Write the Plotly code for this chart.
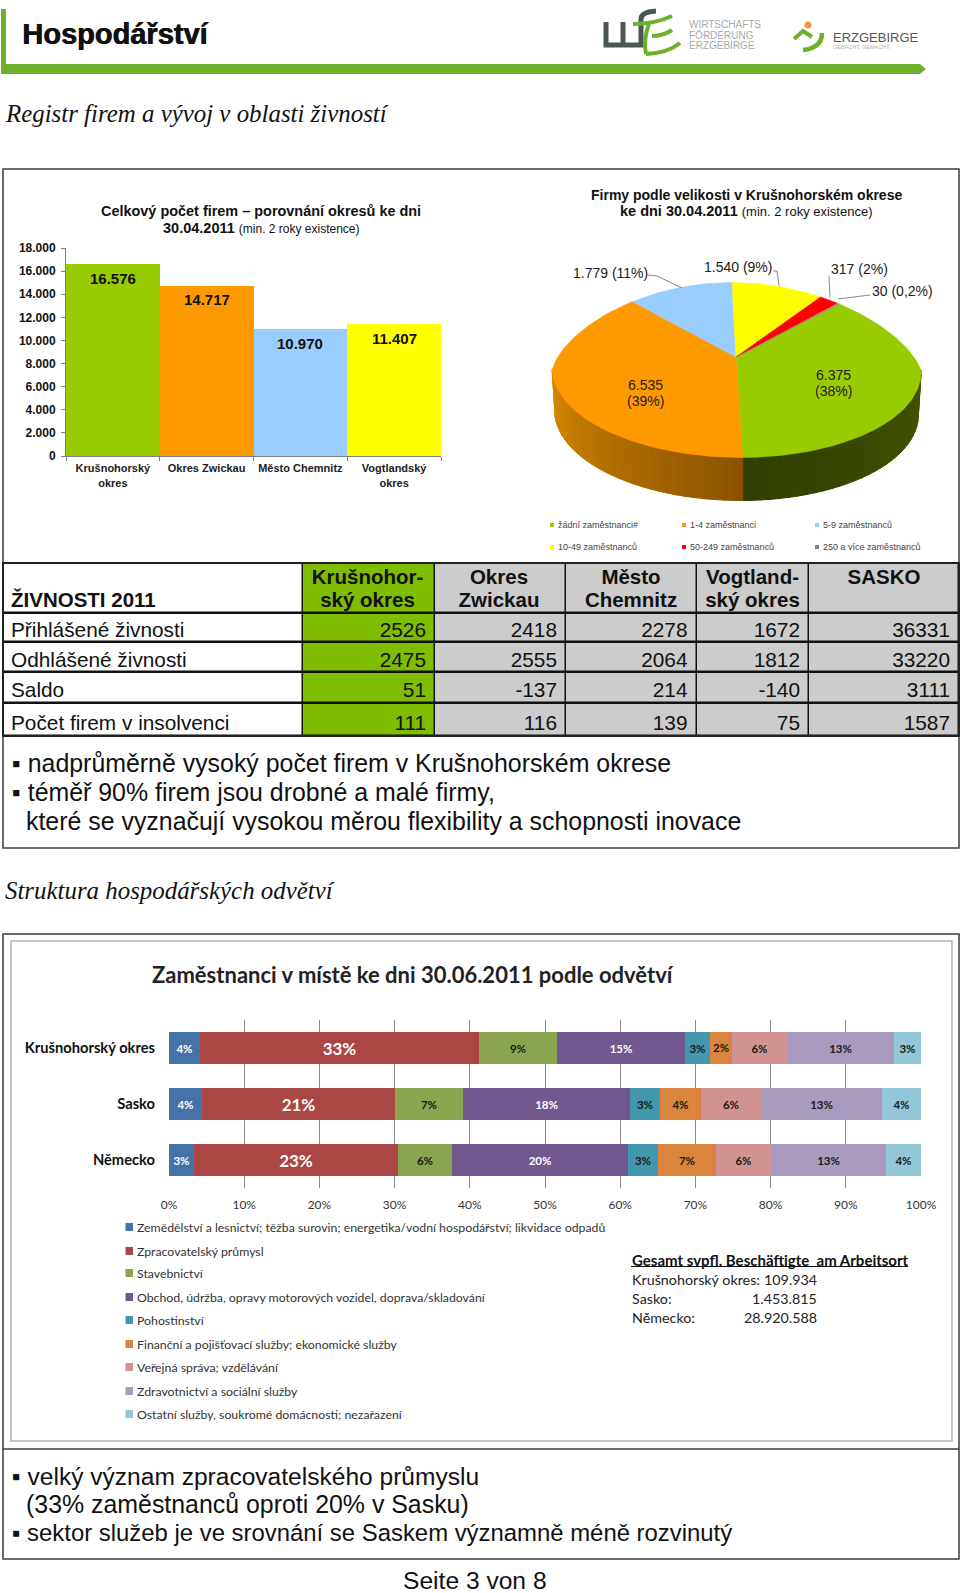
import plotly.graph_objects as go
import math

W, H = 960, 1593
SANS = "Liberation Sans"
SERIF = "Liberation Serif"
LATO = "Lato"

# ---------- data ----------
bar_categories = ["Krušnohorský<br>okres", "Okres Zwickau", "Město Chemnitz", "Vogtlandský<br>okres"]
bar_values = [16576, 14717, 10970, 11407]
bar_colors = ["#99CC00", "#FF9900", "#99CCFF", "#FFFF00"]
bar_ticks = [0, 2000, 4000, 6000, 8000, 10000, 12000, 14000, 16000, 18000]

pie_names = ["žádní zaměstnanci#", "1-4 zaměstnanci", "5-9 zaměstnanců",
             "10-49 zaměstnanců", "50-249 zaměstnanců", "250 a více zaměstnanců"]
pie_values = [6375, 6535, 1779, 1540, 317, 30]
pie_colors = ["#99CC00", "#FF9900", "#99CCFF", "#FFFF00", "#FF0000", "#808080"]

table_corner = "ŽIVNOSTI 2011"
table_head_1 = ["Krušnohor-", "Okres", "Město", "Vogtland-", "SASKO"]
table_head_2 = ["ský okres", "Zwickau", "Chemnitz", "ský okres", ""]
table_rows = ["Přihlášené živnosti", "Odhlášené živnosti", "Saldo", "Počet firem v insolvenci"]
col_krusne = [2526, 2475, 51, 111]
col_zwickau = [2418, 2555, -137, 116]
col_chemnitz = [2278, 2064, 214, 139]
col_vogtland = [1672, 1812, -140, 75]
col_sasko = [36331, 33220, 3111, 1587]

hbar_regions = ["Krušnohorský okres", "Sasko", "Německo"]
sector_names = [
    "Zemědělství a lesnictví; těžba surovin; energetika/vodní hospodářství; likvidace odpadů",
    "Zpracovatelský průmysl", "Stavebnictví",
    "Obchod, údržba, opravy motorových vozidel, doprava/skladování", "Pohostinství",
    "Finanční a pojišťovací služby; ekonomické služby", "Veřejná správa; vzdělávání",
    "Zdravotnictví a sociální služby", "Ostatní služby, soukromé domácnosti; nezařazení"]
sector_colors = ["#4572A7", "#AA4643", "#89A54E", "#71588F", "#4198AF",
                 "#DB843D", "#D19392", "#A99BBD", "#93C6D6"]
sector_text_colors = ["white", "white", "#1a1a1a", "white", "#1a1a1a",
                      "#1a1a1a", "#1a1a1a", "#1a1a1a", "#1a1a1a"]
sector_text_sizes = [11.5, 17, 11.5, 11.5, 11.5, 11.5, 11.5, 11.5, 11.5]
share_krusne = [4.1, 37.1, 10.4, 17.0, 3.4, 2.8, 7.4, 14.2, 3.6]
share_sasko = [4.4, 25.6, 9.1, 22.2, 4.0, 5.4, 8.0, 16.1, 5.2]
share_nemecko = [3.3, 27.2, 7.1, 23.5, 3.9, 7.8, 7.2, 15.3, 4.7]
label_krusne = ["4%", "33%", "9%", "15%", "3%", "2%", "6%", "13%", "3%"]
label_sasko = ["4%", "21%", "7%", "18%", "3%", "4%", "6%", "13%", "4%"]
label_nemecko = ["3%", "23%", "6%", "20%", "3%", "7%", "6%", "13%", "4%"]
pct_ticks = [0, 10, 20, 30, 40, 50, 60, 70, 80, 90, 100]
pct_tick_labels = ["0%", "10%", "20%", "30%", "40%", "50%", "60%", "70%", "80%", "90%", "100%"]

# ---------- helpers ----------
def px_x(x):
    return x / W

def px_y(y):
    return 1 - y / H

annotations = []
shapes = []

def txt(x, y, s, size, family=SANS, color="#111", anchor="left", shadow=None):
    font = dict(size=size, family=family, color=color)
    if shadow:
        font["shadow"] = shadow
    annotations.append(dict(x=px_x(x), y=px_y(y), xref="paper", yref="paper", text=s,
                            showarrow=False, xanchor=anchor, yanchor="middle", align=anchor,
                            font=font, borderpad=0))

def rect(x0, y0, x1, y1, fill=None, line=None, lw=1, layer="above"):
    shapes.append(dict(type="rect", xref="paper", yref="paper", x0=px_x(x0), x1=px_x(x1),
                       y0=px_y(y0), y1=px_y(y1), fillcolor=fill or "rgba(0,0,0,0)",
                       line=dict(color=line or "rgba(0,0,0,0)", width=lw if line else 0), layer=layer))

def hline(x0, x1, y, color, lw):
    shapes.append(dict(type="line", xref="paper", yref="paper", x0=px_x(x0), x1=px_x(x1),
                       y0=px_y(y), y1=px_y(y), line=dict(color=color, width=lw)))

def polyline(points, color, lw, fill=None):
    path = "M " + " L ".join(f"{px_x(a):.5f},{px_y(b):.5f}" for a, b in points)
    shapes.append(dict(type="path", xref="paper", yref="paper", path=path,
                       line=dict(color=color, width=lw), fillcolor=fill or "rgba(0,0,0,0)"))

def curve(d, color, lw):
    out = []
    for cmd, *pts in d:
        out.append(cmd + " " + " ".join(f"{px_x(a):.5f},{px_y(b):.5f}" for a, b in pts))
    shapes.append(dict(type="path", xref="paper", yref="paper", path=" ".join(out),
                       line=dict(color=color, width=lw), fillcolor="rgba(0,0,0,0)"))

fig = go.Figure()

# ---------- column chart ----------
fig.add_trace(go.Bar(x=bar_categories, y=bar_values, marker=dict(color=bar_colors, line=dict(width=0)),
                     xaxis="x", yaxis="y", hoverinfo="skip", showlegend=False))
for cat, val in zip(bar_categories, bar_values):
    annotations.append(dict(x=cat, y=val, xref="x", yref="y", yshift=-14, showarrow=False,
                            text=f"{val:,}".replace(",", "."), yanchor="middle",
                            font=dict(family=SANS, size=15, color="#111", weight="bold")))

# ---------- 3D-looking pie (drawn on its own pair of axes) ----------
A, B, DEPTH = 184.5, 87.5, 43
ROT = 41.0
APEX = (-0.5, 13)

def rim(theta):
    t = math.radians(theta)
    c = math.cos(t)
    f = 1 - 0.165 * max(c, 0)
    return A * math.sin(t) * f - 4.5 * c, B * c

def mix(c1, c2, k):
    a = [int(c1[i:i + 2], 16) for i in (1, 3, 5)]
    b = [int(c2[i:i + 2], 16) for i in (1, 3, 5)]
    return "#" + "".join(f"{round(p + (q - p) * k):02x}" for p, q in zip(a, b))

total = sum(pie_values)
edges = [ROT]
for v in pie_values:
    edges.append(edges[-1] + v / total * 360)

wall = [(90.0, edges[1], "#445400", "#2f3f00"), (edges[1], 270.0, "#8a5200", "#d98a00")]
for start, end, c_a, c_b in wall:
    n = 30
    for i in range(n):
        t0 = start + (end - start) * i / n
        t1 = start + (end - start) * (i + 1) / n + 0.3
        p0, p1 = rim(t0), rim(t1)
        xs = [p0[0], p1[0], p1[0] * 0.985, p0[0] * 0.985, p0[0]]
        ys = [p0[1], p1[1], p1[1] - DEPTH, p0[1] - DEPTH, p0[1]]
        col = mix(c_a, c_b, (i + 0.5) / n)
        fig.add_trace(go.Scatter(x=xs, y=ys, xaxis="x2", yaxis="y2", mode="lines", fill="toself",
                                 fillcolor=col, line=dict(color=col, width=1),
                                 hoverinfo="skip", showlegend=False))

for k, name in enumerate(pie_names):
    t0, t1 = edges[k], edges[k + 1]
    n = max(2, int((t1 - t0) / 1.5))
    arc = [rim(t0 + (t1 - t0) * i / n) for i in range(n + 1)]
    xs = [APEX[0]] + [p[0] for p in arc] + [APEX[0]]
    ys = [APEX[1]] + [p[1] for p in arc] + [APEX[1]]
    fig.add_trace(go.Scatter(x=xs, y=ys, xaxis="x2", yaxis="y2", mode="lines", fill="toself",
                             fillcolor=pie_colors[k], line=dict(color=pie_colors[k], width=0.5),
                             name=name, hoverinfo="skip", showlegend=False))

# ---------- table, as a heatmap with text ----------
col_edges = [3, 303, 435, 566, 696.5, 809, 959]
row_edges = [563, 613, 642, 672, 703, 736]
row_text_y = [632, 662, 692, 725]
head_y1, head_y2 = 579, 602
columns = [col_krusne, col_zwickau, col_chemnitz, col_vogtland, col_sasko]
n_rows = len(table_rows) + 1
z = [[0, 1, 2, 2, 2, 2] for _ in range(n_rows)]
fig.add_trace(go.Heatmap(x=col_edges, y=row_edges, z=z, xaxis="x4", yaxis="y4", zmin=0, zmax=2,
                         colorscale=[[0, "#FFFFFF"], [0.5, "#80BC00"], [1, "#CCCCCC"]],
                         showscale=False, xgap=1.5, ygap=2.5, hoverinfo="skip"))
tfont = dict(family=SANS, size=20.8, color="#111")
hfont = dict(family=SANS, size=20.5, color="#111", weight="bold")
head_centers = [367.5, 499, 631, 752.5, 884]
fig.add_trace(go.Scatter(x=head_centers, y=[head_y1] * 5, text=table_head_1, mode="text", xaxis="x4", yaxis="y4",
                         textposition="middle center", textfont=hfont, hoverinfo="skip", showlegend=False))
fig.add_trace(go.Scatter(x=head_centers, y=[head_y2] * 5, text=table_head_2, mode="text", xaxis="x4", yaxis="y4",
                         textposition="middle center", textfont=hfont, hoverinfo="skip", showlegend=False))
fig.add_trace(go.Scatter(x=[11], y=[head_y2], text=[table_corner], mode="text", xaxis="x4", yaxis="y4",
                         textposition="middle right", textfont=hfont, hoverinfo="skip", showlegend=False))
fig.add_trace(go.Scatter(x=[11] * 4, y=row_text_y, text=table_rows, mode="text", xaxis="x4", yaxis="y4",
                         textposition="middle right", textfont=tfont, hoverinfo="skip", showlegend=False))
for j, col in enumerate(columns):
    fig.add_trace(go.Scatter(x=[col_edges[j + 2] - 9] * 4, y=row_text_y, text=[str(v) for v in col], mode="text",
                             xaxis="x4", yaxis="y4", textposition="middle left", textfont=tfont,
                             hoverinfo="skip", showlegend=False))

# ---------- stacked bars ----------
for i, name in enumerate(sector_names):
    fig.add_trace(go.Bar(
        y=hbar_regions, x=[share_krusne[i], share_sasko[i], share_nemecko[i]],
        text=[label_krusne[i], label_sasko[i], label_nemecko[i]],
        orientation="h", name=name, xaxis="x3", yaxis="y3", width=0.56,
        marker=dict(color=sector_colors[i], line=dict(width=0)),
        textposition="inside", insidetextanchor="middle", textangle=0,
        insidetextfont=dict(family=LATO, size=sector_text_sizes[i], color=sector_text_colors[i], weight="bold"),
        hoverinfo="skip", showlegend=False))

# ---------- frames ----------
rect(3, 169, 959, 848, line="#3c3c3c", lw=1.5)
rect(3, 934, 959, 1559, line="#3c3c3c", lw=1.5)
rect(11, 941, 952, 1441, line="#b4b4b4", lw=1.5)
hline(3, 959, 1449, "#3c3c3c", 1.5)
rect(3, 563, 959, 736, fill="#111111", layer="below")
rect(3, 563, 959, 736, line="#222222", lw=2)

# ---------- page header ----------
GREEN = "#6DB02C"
polyline([(1, 64), (920, 64), (926, 69), (920, 74), (1, 74), (1, 64)], GREEN, 0, GREEN)
rect(1, 9, 6, 64, fill=GREEN)
txt(21, 34, "<b>Hospodářství</b>", 29, shadow="0.8px 0 0 #111")
txt(4, 114, "<i>Registr firem a vývoj v oblasti živností</i>", 24.9, SERIF)
txt(4, 891, "<i>Struktura hospodářských odvětví</i>", 24.9, SERIF)

# logos
DARK = "#4B5657"
curve([("M", (606, 22)), ("L", (606, 45)), ("L", (641, 45)), ("L", (641, 19)), ("Q", (641, 12), (656, 11))], DARK, 5)
curve([("M", (623, 22)), ("L", (623, 45))], DARK, 5)
curve([("M", (633, 24)), ("Q", (655, 24), (672, 16))], GREEN, 4)
curve([("M", (652, 36)), ("Q", (663, 36), (672, 30))], GREEN, 4)
curve([("M", (646, 54)), ("Q", (668, 53), (680, 43))], GREEN, 4)
curve([("M", (649, 24)), ("Q", (643, 40), (646, 54))], GREEN, 4)
txt(688, 24, "WIRTSCHAFTS", 10, color="#a8a8a8")
txt(688, 35, "FÖRDERUNG", 10, color="#a8a8a8")
txt(688, 46, "ERZGEBIRGE", 10, color="#a8a8a8")
shapes.append(dict(type="circle", xref="paper", yref="paper", x0=px_x(804.5), x1=px_x(811.5),
                   y0=px_y(21.5), y1=px_y(28.5), fillcolor="#EE9933", line=dict(width=0)))
curve([("M", (794, 39)), ("L", (803, 31)), ("L", (812, 37))], GREEN, 4)
curve([("M", (803, 50)), ("Q", (822, 48), (822, 33))], GREEN, 4.5)
txt(832, 37, "ERZGEBIRGE", 13, color="#555555")
txt(832, 47.5, "GEBACHT, GEMACHT.", 5.5, color="#b0b0b0")

# ---------- column chart texts ----------
txt(261, 211, "<b>Celkový počet firem – porovnání okresů ke dni</b>", 14.45, anchor="center")
txt(261, 228, '<b>30.04.2011</b> <span style="font-size:12px">(min. 2 roky existence)</span>', 14.5, anchor="center")

# ---------- pie texts ----------
txt(746, 195, "<b>Firmy podle velikosti v Krušnohorském okrese</b>", 14, anchor="center")
txt(746, 211, '<b>ke dni 30.04.2011</b> <span style="font-size:13px">(min. 2 roky existence)</span>', 14.5, anchor="center")
pie_text = [
    (833, 375, "6.375"), (833, 391, "(38%)"), (645, 385, "6.535"), (645, 401, "(39%)"),
    (610, 273, "1.779 (11%)"), (738, 267, "1.540 (9%)"), (859, 269, "317 (2%)"), (902, 291, "30 (0,2%)")]
for x, y, s in pie_text:
    txt(x, y, s, 14, anchor="center", color="#222")
for pts in ([(648, 275), (657, 276), (682, 288)], [(773, 271), (777, 271), (779, 286)],
            [(829, 276), (830, 297)], [(870, 295), (838, 299)]):
    polyline(pts, "#666666", 0.8)
leg_x = [552, 684, 817]
leg_y = [525, 547]
for k, name in enumerate(pie_names):
    lx, ly = leg_x[k % 3], leg_y[k // 3]
    rect(lx - 2, ly - 2, lx + 2, ly + 2, fill=pie_colors[k])
    txt(lx + 5, ly, name, 9, color="#444")

# ---------- body text ----------
txt(11, 763, "▪ nadprůměrně vysoký počet firem v Krušnohorském okrese", 24.9)
txt(11, 792, "▪ téměř 90% firem jsou drobné a malé firmy,", 24.9)
txt(25, 821, "které se vyznačují vysokou měrou flexibility a schopnosti inovace", 24.9)
txt(11, 1476, "▪ velký význam zpracovatelského průmyslu", 24.55)
txt(25, 1504, "(33% zaměstnanců oproti 20% v Sasku)", 24.9)
txt(11, 1532, "▪ sektor služeb je ve srovnání se Saskem významně méně rozvinutý", 23.9)
txt(475, 1580, "Seite 3 von 8", 24.6, anchor="center")

# ---------- stacked bar texts ----------
txt(151, 975, "<b>Zaměstnanci v místě ke dni 30.06.2011 podle odvětví</b>", 22, LATO, "#222")
sector_y = [1227, 1251, 1273, 1297, 1320, 1344, 1367, 1391, 1414]
for i, name in enumerate(sector_names):
    rect(125.5, sector_y[i] - 4, 133, sector_y[i] + 4, fill=sector_colors[i])
    txt(136, sector_y[i], name, 12.3, LATO, "#333")
txt(631, 1260, "<b>Gesamt svpfl. Beschäftigte  am Arbeitsort</b>", 15, LATO, "#111")
hline(631, 908, 1266.5, "#111", 1)
for y, a, b in ((1279, "Krušnohorský okres:", "109.934"), (1298, "Sasko:", "1.453.815"), (1317, "Německo:", "28.920.588")):
    txt(631, y, a, 14.3, LATO, "#222")
    txt(818, y, b, 14.3, LATO, "#222", anchor="right")

# ---------- layout ----------
def dom_x(a, b):
    return [px_x(a), px_x(b)]

def dom_y(top, bottom):
    return [px_y(bottom), px_y(top)]

hidden = dict(visible=False, showgrid=False, zeroline=False, fixedrange=True, automargin=False)
fig.update_layout(
    width=W, height=H, autosize=False, margin=dict(l=0, r=0, t=0, b=0, pad=0),
    paper_bgcolor="white", plot_bgcolor="rgba(0,0,0,0)", separators=",.",
    barmode="stack", bargap=0, showlegend=False,
    font=dict(family=SANS, color="#222"),
    annotations=annotations, shapes=shapes,
    xaxis=dict(domain=dom_x(66, 441), anchor="y", type="category", showgrid=False, zeroline=False, automargin=False,
               showline=True, linecolor="#808080", ticks="outside", ticklen=4, tickcolor="#808080",
               tickson="boundaries", tickfont=dict(family=SANS, size=11, color="#222", weight="bold"),
               tickangle=0, ticklabelstandoff=2),
    yaxis=dict(domain=dom_y(248, 456), anchor="x", range=[0, 18000], tickvals=bar_ticks, tickformat=",d",
               showgrid=False, zeroline=False, showline=True, linecolor="#808080", ticks="outside", automargin=False,
               ticklen=4, tickcolor="#808080", ticklabelstandoff=3,
               tickfont=dict(family=SANS, size=12, color="#111", weight="bold")),
    xaxis2=dict(domain=dom_x(540, 940), anchor="y2", range=[540 - 736.5, 940 - 736.5], **hidden),
    yaxis2=dict(domain=dom_y(270, 520), anchor="x2", range=[370 - 520, 370 - 270], **hidden),
    xaxis3=dict(domain=dom_x(169, 921), anchor="y3", range=[0, 100], tickvals=pct_ticks, ticktext=pct_tick_labels,
                showgrid=True, gridcolor="#868686", gridwidth=1, zeroline=False, automargin=False,
                showline=False, ticks="", ticklabelstandoff=8,
                tickfont=dict(family=LATO, size=12, color="#333")),
    yaxis3=dict(domain=dom_y(1020, 1188), anchor="x3", autorange="reversed", type="category", automargin=False,
                showgrid=False, zeroline=False, showline=False, ticks="", ticklabelstandoff=13,
                tickfont=dict(family=LATO, size=14.7, color="#111", weight="bold")),
    xaxis4=dict(domain=dom_x(3, 959), anchor="y4", range=[3, 959], **hidden),
    yaxis4=dict(domain=dom_y(563, 736), anchor="x4", range=[736, 563], **hidden),
)

fig.write_html("out.html", config={"displayModeBar": False}, post_script="document.body.style.margin='0';")
